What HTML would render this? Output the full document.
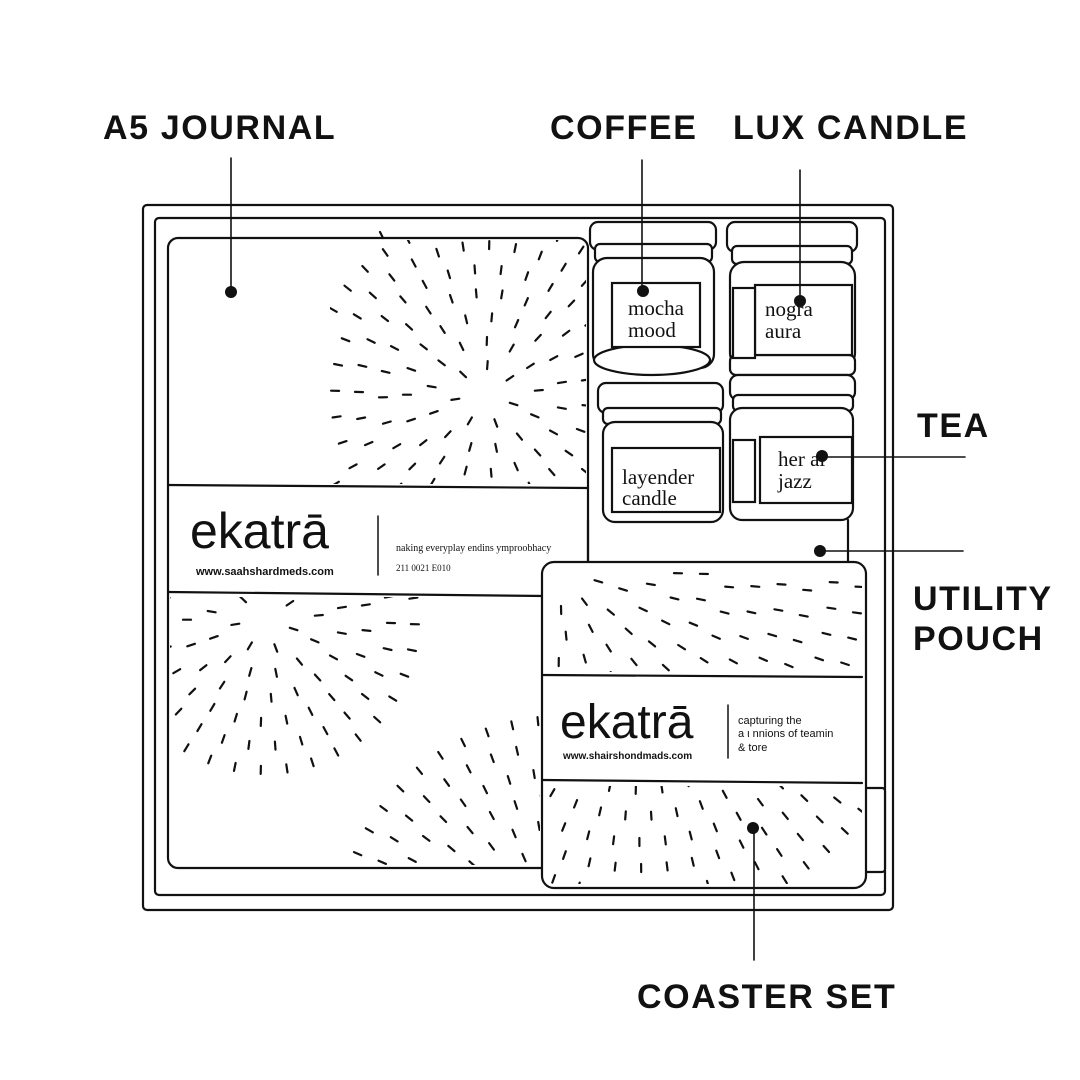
<!DOCTYPE html>
<html><head><meta charset="utf-8"><style>
html,body{margin:0;padding:0;background:#fff;width:1080px;height:1080px;overflow:hidden}
svg{display:block;position:absolute;left:0;top:0}
.l{font-family:"Liberation Sans",sans-serif;font-weight:bold;font-size:34px;letter-spacing:1.6px;fill:#111}
.s{font-family:"Liberation Serif",serif;font-size:21px;fill:#111}
</style></head><body>
<svg width="1080" height="1080" viewBox="0 0 1080 1080" xmlns="http://www.w3.org/2000/svg" fill="none" stroke="#111" stroke-width="2.2" stroke-linecap="round">
<defs>
<clipPath id="c1"><rect x="330" y="240" width="256" height="244"/></clipPath>
<clipPath id="c2"><rect x="170" y="597" width="370" height="268"/></clipPath>
<clipPath id="c3"><rect x="546" y="566" width="316" height="106"/></clipPath>
<clipPath id="c4"><rect x="546" y="786" width="316" height="98"/></clipPath>
</defs>
<rect x="143" y="205" width="750" height="705" rx="4"/>
<rect x="155" y="218" width="730" height="677" rx="4"/>
<rect x="168" y="238" width="420" height="630" rx="10"/>
<line x1="168" y1="485" x2="588" y2="488"/>
<line x1="168" y1="592" x2="545" y2="596"/>
<line x1="588" y1="520" x2="588" y2="562"/>
<line x1="848" y1="520" x2="848" y2="562"/>
<line x1="380" y1="232" x2="383" y2="238"/>
<line x1="378" y1="516" x2="378" y2="575" stroke-width="1.5"/>
<g id="d1" clip-path="url(#c1)"></g>
<g id="d2" clip-path="url(#c2)"></g>
<g fill="#fff">
<rect x="590" y="222" width="126" height="28" rx="8"/><rect x="595" y="244" width="117" height="18" rx="5"/>
<rect x="593" y="258" width="121" height="110" rx="14"/>
<ellipse cx="652" cy="360" rx="58" ry="15"/>
<rect x="612" y="283" width="88" height="64"/>
<rect x="727" y="222" width="130" height="30" rx="8"/><rect x="732" y="246" width="120" height="18" rx="5"/>
<rect x="730" y="262" width="125" height="105" rx="14"/>
<rect x="730" y="355" width="125" height="20" rx="6"/>
<rect x="755" y="285" width="97" height="70"/><rect x="733" y="288" width="22" height="70"/>
<rect x="598" y="383" width="125" height="30" rx="8"/><rect x="603" y="408" width="118" height="16" rx="5"/>
<rect x="603" y="422" width="120" height="100" rx="12"/>
<rect x="612" y="448" width="108" height="64"/>
<rect x="730" y="375" width="125" height="25" rx="8"/><rect x="733" y="395" width="120" height="16" rx="5"/>
<rect x="730" y="408" width="123" height="112" rx="12"/>
<rect x="760" y="437" width="92" height="66"/><rect x="733" y="440" width="22" height="62"/>
</g>
<g stroke="none">
<text class="s" x="628" y="315">mocha</text>
<text class="s" x="628" y="337">mood</text>
<text class="s" x="765" y="316">nogra</text>
<text class="s" x="765" y="338">aura</text>
<text class="s" x="622" y="484">layender</text>
<text class="s" x="622" y="505">candle</text>
<text class="s" x="778" y="466">her al</text>
<text class="s" x="778" y="488">jazz</text>
</g>
<rect x="855" y="788" width="30" height="84" rx="3" fill="#fff"/>
<rect x="542" y="562" width="324" height="326" rx="12" fill="#fff"/>
<g id="d3" clip-path="url(#c3)"></g>
<g id="d4" clip-path="url(#c4)"></g>
<line x1="542" y1="675" x2="862" y2="677"/>
<line x1="542" y1="780" x2="862" y2="783"/>
<line x1="728" y1="705" x2="728" y2="758" stroke-width="1.5"/>
<g stroke="none" fill="#111">
<text x="190" y="548" font-family="Liberation Sans,sans-serif" font-size="50">ekatrā</text>
<text x="196" y="575" font-family="Liberation Sans,sans-serif" font-size="11" font-weight="bold">www.saahshardmeds.com</text>
<text x="396" y="551" font-family="Liberation Serif,serif" font-size="10">naking everyplay endins ymproobhacy</text>
<text x="396" y="571" font-family="Liberation Serif,serif" font-size="9">211 0021 E010</text>
<text x="560" y="738" font-family="Liberation Sans,sans-serif" font-size="48">ekatrā</text>
<text x="563" y="759" font-family="Liberation Sans,sans-serif" font-size="10" font-weight="bold">www.shairshondmads.com</text>
<text x="738" y="724" font-family="Liberation Sans,sans-serif" font-size="11">capturing the</text>
<text x="738" y="737" font-family="Liberation Sans,sans-serif" font-size="11">a ι nnions of teamin</text>
<text x="738" y="751" font-family="Liberation Sans,sans-serif" font-size="11">&amp; tore</text>
</g>
<g stroke-width="1.6">
<line x1="231" y1="158" x2="231" y2="292"/>
<line x1="642" y1="160" x2="642" y2="290"/>
<line x1="800" y1="170" x2="800" y2="300"/>
<line x1="822" y1="457" x2="965" y2="457"/>
<line x1="820" y1="551" x2="963" y2="551"/>
<line x1="754" y1="828" x2="754" y2="960"/>
</g>
<g fill="#111" stroke="none">
<circle cx="231" cy="292" r="6"/><circle cx="643" cy="291" r="6"/><circle cx="800" cy="301" r="6"/>
<circle cx="822" cy="456" r="6"/><circle cx="820" cy="551" r="6"/><circle cx="753" cy="828" r="6"/>
</g>
<g stroke="none">
<text class="l" x="103" y="139">A5 JOURNAL</text>
<text class="l" x="550" y="139">COFFEE</text>
<text class="l" x="733" y="139">LUX CANDLE</text>
<text class="l" x="917" y="437">TEA</text>
<text class="l" x="913" y="610">UTILITY</text>
<text class="l" x="913" y="650">POUCH</text>
<text class="l" x="637" y="1008">COASTER SET</text>
</g>
</svg>
<script>
function burst(id,cx,cy,r0,r1,step){var g=document.getElementById(id),h='';
for(var r=r0;r<=r1;r+=step){var n=Math.round(2*Math.PI*r/26);for(var i=0;i<n;i++){var a=i/n*2*Math.PI+r*0.07;
var x=cx+r*Math.cos(a),y=cy+r*Math.sin(a),dx=4*Math.cos(a),dy=4*Math.sin(a);
h+='<line x1="'+(x-dx).toFixed(1)+'" y1="'+(y-dy).toFixed(1)+'" x2="'+(x+dx).toFixed(1)+'" y2="'+(y+dy).toFixed(1)+'"/>';}}
g.innerHTML+=h;}
burst('d1',485,395,30,190,24);
burst('d2',265,620,30,160,24);
burst('d2',560,940,90,240,26);
burst('d3',560,570,40,300,26);
burst('d4',640,640,150,300,26);
</script>
</body></html>
